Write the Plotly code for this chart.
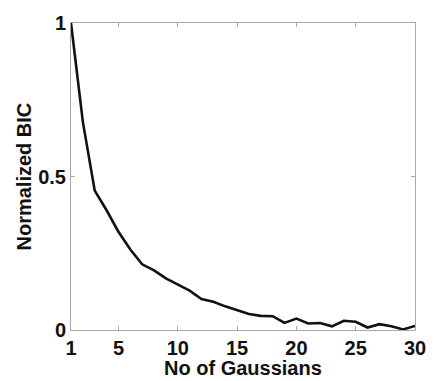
import plotly.graph_objects as go

n_gaussians = list(range(1, 31))
normalized_bic = [1.0, 0.678, 0.454, 0.39, 0.32, 0.262, 0.214, 0.194, 0.168, 0.147,
                  0.128, 0.101, 0.092, 0.077, 0.065, 0.052, 0.046, 0.045, 0.023, 0.037,
                  0.021, 0.023, 0.012, 0.030, 0.027, 0.008, 0.019, 0.012, 0.002, 0.013]

x_tick_vals = [1, 5, 10, 15, 20, 25, 30]
x_tick_text = ["1", "5", "10", "15", "20", "25", "30"]
y_tick_vals = [0, 0.5, 1]
y_tick_text = ["0", "0.5", "1"]

x_title = "No of Gaussians"
y_title = "Normalized BIC"

FONT = "Liberation Sans, Arial, Helvetica, sans-serif"
AXIS_COLOR = "#a8a8a8"

fig = go.Figure()
fig.add_trace(go.Scatter(
    x=n_gaussians, y=normalized_bic, mode="lines",
    line=dict(color="#111111", width=2.6),
    showlegend=False, hoverinfo="skip",
))

axis_common = dict(
    showgrid=False, zeroline=False, showline=True, linecolor=AXIS_COLOR, linewidth=1,
    mirror="ticks", ticks="inside", ticklen=4, tickcolor=AXIS_COLOR, tickwidth=1,
    tickfont=dict(family=FONT, size=20, color="#111111", weight="bold"),
    tickmode="array",
)

fig.update_xaxes(range=[1, 30], tickvals=x_tick_vals, ticktext=x_tick_text, **axis_common)
fig.update_yaxes(range=[0, 1], tickvals=y_tick_vals, ticktext=y_tick_text, **axis_common)

fig.add_annotation(text=x_title, xref="paper", yref="paper", x=0.5, y=0,
                   xanchor="center", yanchor="middle", yshift=-38, showarrow=False,
                   font=dict(family=FONT, size=20, color="#111111", weight="bold"))
fig.add_annotation(text=y_title, xref="paper", yref="paper", x=0, y=0.5,
                   xanchor="center", yanchor="middle", xshift=-48, textangle=-90,
                   showarrow=False,
                   font=dict(family=FONT, size=20, color="#111111", weight="bold"))

fig.update_layout(
    width=438, height=381,
    margin=dict(l=71, r=13, t=16, b=51),
    paper_bgcolor="white", plot_bgcolor="white",
)

fig.write_html("out.html")
